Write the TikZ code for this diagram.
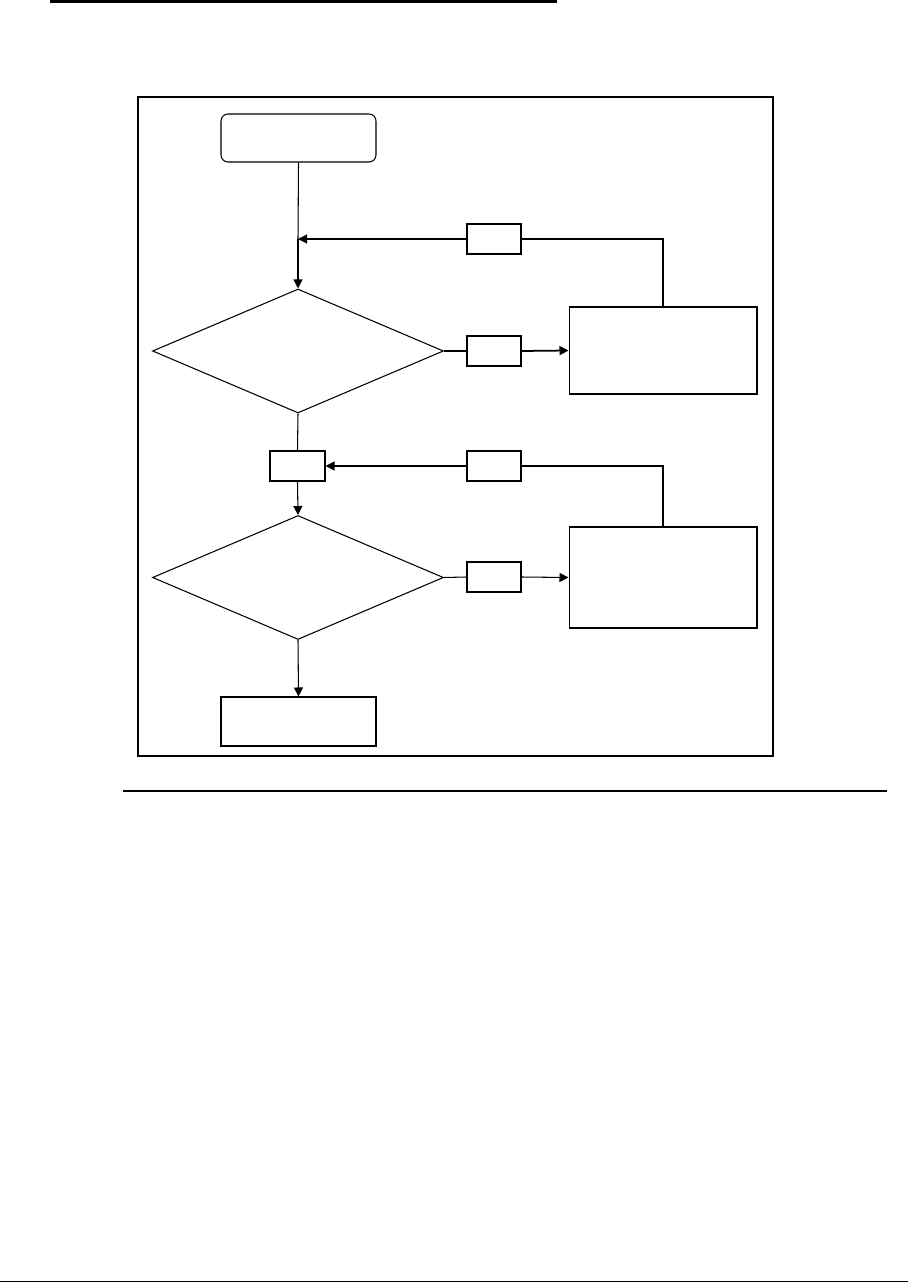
\documentclass[tikz,border=0pt]{standalone}
\usepackage{tikz}
\usetikzlibrary{shapes.geometric,arrows.meta}
\tikzset{
startbox/.style={draw,line width=0.6pt,rounded corners=4pt,minimum width=3.1cm,minimum height=0.96cm,inner sep=0pt},
stepbox/.style={draw,line width=0.6pt,minimum width=#1,inner sep=0pt},
tagbox/.style={draw,line width=0.6pt,minimum width=1.08cm,minimum height=0.6cm,inner sep=0pt},
testnode/.style={draw,line width=0.6pt,shape=diamond,minimum width=5.82cm,minimum height=2.48cm,inner sep=0pt},
link/.style={line width=0.6pt},
flow/.style={line width=0.6pt,-{Triangle[length=1.8mm,width=1.8mm]}},
boldlink/.style={line width=1pt},
boldflow/.style={line width=1pt,-{Triangle[length=1.8mm,width=1.8mm]}},
frameline/.style={line width=1.2pt},
ruleline/.style={line width=#1}
}
\begin{document}
\begin{tikzpicture}[x=0.02cm,y=-0.02cm]
\useasboundingbox (0,0) rectangle (908,1283);
\draw[ruleline=1.6pt] (50,1.5) -- (557,1.5);
\draw[ruleline=0.6pt] (123,791) -- (887,791);
\draw[ruleline=1.1pt] (0,1281.5) -- (908,1281.5);
\draw[frameline] (138,97) rectangle (773,756);
\node[startbox] (start) at (298.5,138) {};
\coordinate (join) at (298,239);
\node[testnode] (dia1) at (298,351) {};
\node[tagbox] (tagA) at (494,239) {};
\node[tagbox] (tagB) at (494,351) {};
\node[stepbox=3.76cm,minimum height=1.74cm] (retryA) at (663,350.5) {};
\node[stepbox=1.1cm,minimum height=0.6cm] (mid) at (297.5,466) {};
\node[tagbox] (tagC) at (494,466) {};
\node[testnode] (dia2) at (298,577.5) {};
\node[tagbox] (tagD) at (494,577) {};
\node[stepbox=3.76cm,minimum height=2.02cm] (retryB) at (663,577.5) {};
\node[stepbox=3.1cm,minimum height=0.98cm] (stop) at (298.5,721.5) {};
\draw[link] (start.south) -- (join);
\draw[flow] (join) -- (dia1.north);
\draw[boldlink] (dia1.east) -- (tagB.west);
\draw[boldflow] (tagB.east) -- (retryA.west);
\draw[boldlink] (retryA.north) |- (tagA.east);
\draw[flow] (tagA.west) -- (join);
\draw[link] (dia1.south) -- (mid.north);
\draw[flow] (mid.south) -- (dia2.north);
\draw[link] (dia2.east) -- (tagD.west);
\draw[flow] (tagD.east) -- (retryB.west);
\draw[boldlink] (retryB.north) |- (tagC.east);
\draw[flow] (tagC.west) -- (mid.east);
\draw[flow] (dia2.south) -- (stop.north);
\end{tikzpicture}
\end{document}
